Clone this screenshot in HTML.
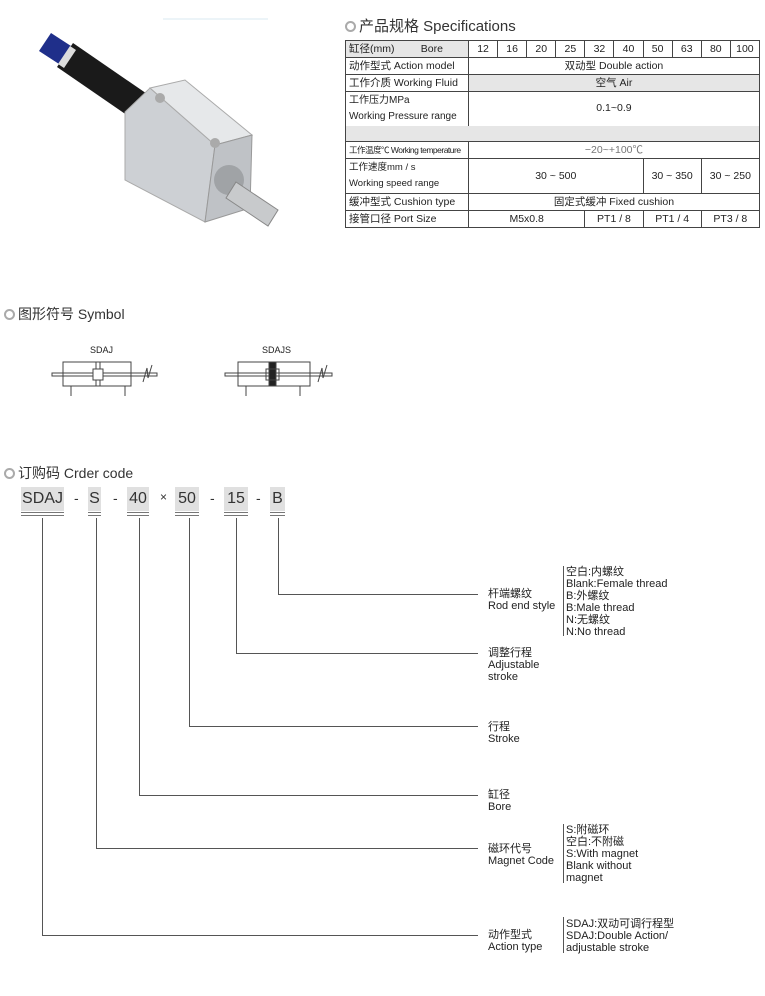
<!DOCTYPE html>
<html><head><meta charset="utf-8"><style>
*{margin:0;padding:0;box-sizing:border-box}
body{width:765px;height:996px;background:#fff;position:relative;overflow:hidden;font-family:"Liberation Sans","Noto Sans CJK SC",sans-serif;color:#222}
.a{position:absolute;white-space:nowrap}
.h{font-size:14px;color:#333}
.ic{display:inline-block;width:11px;height:11px;border:2px solid #aaa;border-radius:50%;margin-right:3px;vertical-align:-1px}
.l{font-size:11px;line-height:12px;color:#222}
table{position:absolute;left:345px;top:40px;width:414px;border-collapse:collapse;font-size:10.5px;table-layout:fixed}
td{border:1px solid #444;text-align:center;padding:0;height:17px;line-height:15px;color:#222;overflow:hidden;white-space:nowrap}
td.lb{text-align:left;padding-left:3px;background:#fff}
tr.g td{background:#e6e6e6}
tr.g td.lb{background:#fff}
.box{position:absolute;background:#e0e0e0;font-size:16px;text-align:center;line-height:24px;height:24px;color:#333}
.dash{position:absolute;font-size:14px;color:#333;top:490px}
</style></head><body>
<svg class="a" style="left:0;top:0" width="300" height="240">
<line x1="163" y1="19" x2="268" y2="19" stroke="#d8e8f0"/>
<polygon points="73,43 153,98 137,122 57,67" fill="#1a1a1a"/>
<polygon points="51,33 71,46 59,64 39,51" fill="#1f2f8a"/>
<polygon points="70,46 76,50 64,68 58,64" fill="#ddd"/>
<polygon points="125,112 150,88 215,145 205,222 125,180" fill="#cdd0d4" stroke="#aaa"/>
<polygon points="150,88 185,80 252,135 215,145" fill="#e6e8ea" stroke="#aaa"/>
<polygon points="215,145 252,135 250,208 205,222" fill="#bfc2c6" stroke="#999"/>
<circle cx="229" cy="180" r="15" fill="#a0a3a6"/>
<polygon points="236,182 278,210 268,226 226,198" fill="#c8cacc" stroke="#888"/>
<circle cx="160" cy="98" r="5" fill="#aaa"/><circle cx="215" cy="143" r="5" fill="#aaa"/>
</svg>
<div class="a h" style="left:345px;top:15px;font-size:15px"><span class="ic"></span>产品规格 Specifications</div>
<table>
<colgroup><col style="width:123px"><col span="10" style="width:29.1px"></colgroup>
<tr><td class="lb" style="background:#e6e6e6">缸径(mm)&nbsp;&nbsp;&nbsp;&nbsp;&nbsp;&nbsp;&nbsp;&nbsp;&nbsp;Bore</td><td>12</td><td>16</td><td>20</td><td>25</td><td>32</td><td>40</td><td>50</td><td>63</td><td>80</td><td>100</td></tr>
<tr><td class="lb">动作型式 Action model</td><td colspan="10">双动型 Double action</td></tr>
<tr class="g"><td class="lb">工作介质 Working Fluid</td><td colspan="10">空气 Air</td></tr>
<tr><td class="lb" style="height:34px;line-height:16px;border-bottom:none;font-size:10px">工作压力MPa<br>Working Pressure range</td><td colspan="10" style="border-bottom:none">0.1~0.9</td></tr>
<tr class="g"><td colspan="11" style="background:#e6e6e6;border-top:none;border-bottom:none;height:16px"></td></tr>
<tr><td class="lb" style="font-size:8.5px;letter-spacing:-0.5px">工作温度℃ Working temperature</td><td colspan="10" style="color:#777">−20~+100℃</td></tr>
<tr><td class="lb" style="height:35px;font-size:9.5px;line-height:16px">工作速度mm / s<br>Working speed range</td><td colspan="6">30 ~ 500</td><td colspan="2">30 ~ 350</td><td colspan="2">30 ~ 250</td></tr>
<tr class="g"><td class="lb">缓冲型式 Cushion type</td><td colspan="10" style="background:#fff">固定式缓冲 Fixed cushion</td></tr>
<tr><td class="lb">接管口径 Port Size</td><td colspan="4">M5x0.8</td><td colspan="2">PT1 / 8</td><td colspan="2">PT1 / 4</td><td colspan="2">PT3 / 8</td></tr>
</table>
<div class="a h" style="left:4px;top:304px"><span class="ic"></span>图形符号 Symbol</div>
<div class="a" style="left:90px;top:345px;font-size:9px">SDAJ</div>
<div class="a" style="left:262px;top:345px;font-size:9px">SDAJS</div>
<svg class="a" style="left:0;top:350px" width="340" height="60" fill="none" stroke="#444" stroke-width="1">
<rect x="63" y="12" width="68" height="24"/>
<rect x="52" y="23" width="105" height="3"/>
<line x1="96" y1="12" x2="96" y2="36"/><line x1="100" y1="12" x2="100" y2="36"/>
<rect x="93" y="19" width="10" height="11" fill="#fff"/>
<line x1="71" y1="36" x2="71" y2="46"/><line x1="125" y1="36" x2="125" y2="46"/>
<path d="M143 32 L147 18 L148 28 L152 15"/>
<rect x="238" y="12" width="72" height="24"/>
<rect x="225" y="23" width="107" height="3"/>
<rect x="269" y="12" width="7" height="24" fill="#222"/>
<rect x="266" y="19" width="13" height="11" fill="none"/>
<line x1="246" y1="36" x2="246" y2="46"/><line x1="300" y1="36" x2="300" y2="46"/>
<path d="M318 32 L322 18 L323 28 L327 15"/>
</svg>
<div class="a h" style="left:4px;top:463px"><span class="ic"></span>订购码 Crder code</div>
<div class="box" style="left:21px;top:487px;width:43px">SDAJ</div>
<div class="dash" style="left:74px">-</div>
<div class="box" style="left:88px;top:487px;width:13px">S</div>
<div class="dash" style="left:113px">-</div>
<div class="box" style="left:127px;top:487px;width:22px">40</div>
<div class="dash" style="left:160px;font-size:12px">×</div>
<div class="box" style="left:175px;top:487px;width:24px">50</div>
<div class="dash" style="left:210px">-</div>
<div class="box" style="left:224px;top:487px;width:24px">15</div>
<div class="dash" style="left:256px">-</div>
<div class="box" style="left:270px;top:487px;width:15px">B</div>
<svg class="a" style="left:0;top:0" width="765" height="996" fill="none" stroke="#555" stroke-width="1">
<g stroke="#777">
<path d="M21 512.5H64M21 515.5H64M88 512.5H101M88 515.5H101M127 512.5H149M127 515.5H149M175 512.5H199M175 515.5H199M224 512.5H248M224 515.5H248M270 512.5H285M270 515.5H285"/>
</g>
<path d="M42.5 518V935.5H478"/>
<path d="M96.5 518V848.5H478"/>
<path d="M139.5 518V795.5H478"/>
<path d="M189.5 518V726.5H478"/>
<path d="M236.5 518V653.5H478"/>
<path d="M278.5 518V594.5H478"/>
<path d="M563.5 566V636M563.5 824V883M563.5 917V953"/>
</svg>
<div class="a l" style="left:488px;top:588px">杆端螺纹<br>Rod end style</div>
<div class="a l" style="left:566px;top:566px">空白:内螺纹<br>Blank:Female thread<br>B:外螺纹<br>B:Male thread<br>N:无螺纹<br>N:No thread</div>
<div class="a l" style="left:488px;top:647px">调整行程<br>Adjustable<br>stroke</div>
<div class="a l" style="left:488px;top:721px">行程<br>Stroke</div>
<div class="a l" style="left:488px;top:789px">缸径<br>Bore</div>
<div class="a l" style="left:488px;top:843px">磁环代号<br>Magnet Code</div>
<div class="a l" style="left:566px;top:824px">S:附磁环<br>空白:不附磁<br>S:With magnet<br>Blank without<br>magnet</div>
<div class="a l" style="left:488px;top:929px">动作型式<br>Action type</div>
<div class="a l" style="left:566px;top:918px">SDAJ:双动可调行程型<br>SDAJ:Double Action/<br>adjustable stroke</div>
</body></html>
